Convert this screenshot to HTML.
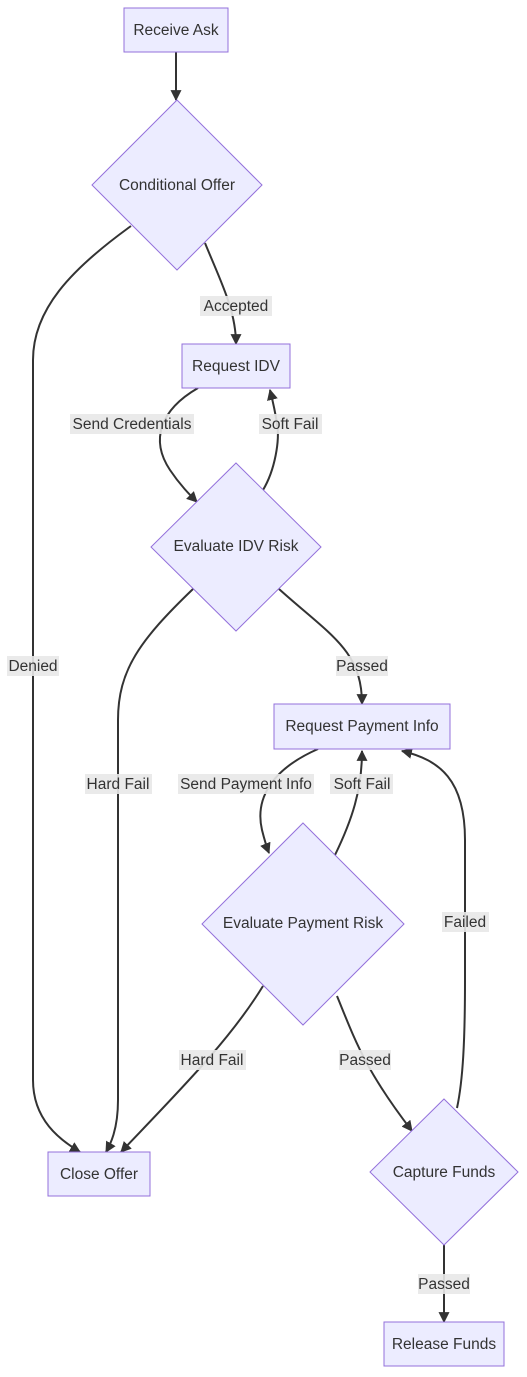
<!DOCTYPE html>
<html><head><meta charset="utf-8"><style>
html,body{margin:0;padding:0;background:#fff;}
svg{display:block}
text{font-family:"Liberation Sans",sans-serif;font-size:15.5px;fill:#333;}
.n{fill:#ECECFF;stroke:#9370DB;stroke-width:1;}
.e{fill:none;stroke:#333;stroke-width:2;}
.lb{fill:#e8e8e8;opacity:0.9}
</style></head><body>
<svg width="527" height="1377" viewBox="0 0 527 1377" xmlns="http://www.w3.org/2000/svg">
<defs><marker id="a" viewBox="0 0 10 10" refX="9" refY="5" markerWidth="11" markerHeight="11" markerUnits="userSpaceOnUse" orient="auto"><path d="M0,0 L10,5 L0,10 z" fill="#333"/></marker></defs>

<path class="e" marker-end="url(#a)" d="M176,52 L176,100"/>
<path class="e" marker-end="url(#a)" d="M131,226 C70,270 33,310 33,360 L33,1080 C33,1120 60,1140 80,1152"/>
<path class="e" marker-end="url(#a)" d="M205,243 C220,280 236,310 236,344"/>
<path class="e" marker-end="url(#a)" d="M198,388 C160,410 150,440 170,470 C180,485 190,495 197,502"/>
<path class="e" marker-end="url(#a)" d="M263,490 C275,470 280,440 277,424 C275,410 272,398 270,390"/>
<path class="e" marker-end="url(#a)" d="M193,589 C140,640 118,670 118,720 L118,1100 C118,1130 110,1145 106,1152"/>
<path class="e" marker-end="url(#a)" d="M279,589 C330,635 362,650 362,704"/>
<path class="e" marker-end="url(#a)" d="M318,749 C270,770 255,800 262,830 C265,842 267,848 269,853"/>
<path class="e" marker-end="url(#a)" d="M335,855 C352,820 362,790 362,751"/>
<path class="e" marker-end="url(#a)" d="M263,986 C230,1040 180,1090 121,1152"/>
<path class="e" marker-end="url(#a)" d="M337,996 C355,1040 365,1070 412,1131"/>
<path class="e" marker-end="url(#a)" d="M457,1108 C463,1080 465,1040 465,980 L465,840 C465,780 440,760 402,751"/>
<path class="e" marker-end="url(#a)" d="M444,1245 L444,1322"/>

<rect class="lb" x="7" y="656" width="52" height="20"/><text x="33" y="671" text-anchor="middle">Denied</text>
<rect class="lb" x="200" y="296" width="72" height="20"/><text x="236" y="311" text-anchor="middle">Accepted</text>
<rect class="lb" x="70" y="414" width="124" height="20"/><text x="132" y="429" text-anchor="middle">Send Credentials</text>
<rect class="lb" x="259" y="414" width="63" height="20"/><text x="290" y="429" text-anchor="middle">Soft Fail</text>
<rect class="lb" x="85" y="774" width="67" height="20"/><text x="118" y="789" text-anchor="middle">Hard Fail</text>
<rect class="lb" x="336" y="656" width="52" height="20"/><text x="362" y="671" text-anchor="middle">Passed</text>
<rect class="lb" x="178" y="774" width="136" height="20"/><text x="246" y="789" text-anchor="middle">Send Payment Info</text>
<rect class="lb" x="330" y="774" width="63" height="20"/><text x="362" y="789" text-anchor="middle">Soft Fail</text>
<rect class="lb" x="179" y="1050" width="67" height="20"/><text x="212" y="1065" text-anchor="middle">Hard Fail</text>
<rect class="lb" x="339" y="1050" width="52" height="20"/><text x="365" y="1065" text-anchor="middle">Passed</text>
<rect class="lb" x="442" y="912" width="47" height="20"/><text x="465" y="927" text-anchor="middle">Failed</text>
<rect class="lb" x="418" y="1274" width="52" height="20"/><text x="444" y="1289" text-anchor="middle">Passed</text>

<rect class="n" x="124" y="8" width="104" height="44"/><text x="176" y="35" text-anchor="middle">Receive Ask</text>
<polygon class="n" points="177,100 262,185 177,270 92,185"/><text x="177" y="190" text-anchor="middle">Conditional Offer</text>
<rect class="n" x="182" y="344" width="108" height="44"/><text x="236" y="371" text-anchor="middle">Request IDV</text>
<polygon class="n" points="236,463 321,547 236,631 151,547"/><text x="236" y="551" text-anchor="middle">Evaluate IDV Risk</text>
<rect class="n" x="274" y="704" width="176" height="45"/><text x="362" y="731" text-anchor="middle">Request Payment Info</text>
<polygon class="n" points="303,823 404,924 303,1025 202,924"/><text x="303" y="928" text-anchor="middle">Evaluate Payment Risk</text>
<rect class="n" x="48" y="1152" width="102" height="44"/><text x="99" y="1179" text-anchor="middle">Close Offer</text>
<polygon class="n" points="444,1099 518,1172 444,1245 370,1172"/><text x="444" y="1177" text-anchor="middle">Capture Funds</text>
<rect class="n" x="384" y="1322" width="120" height="44"/><text x="444" y="1349" text-anchor="middle">Release Funds</text>
</svg>
</body></html>
